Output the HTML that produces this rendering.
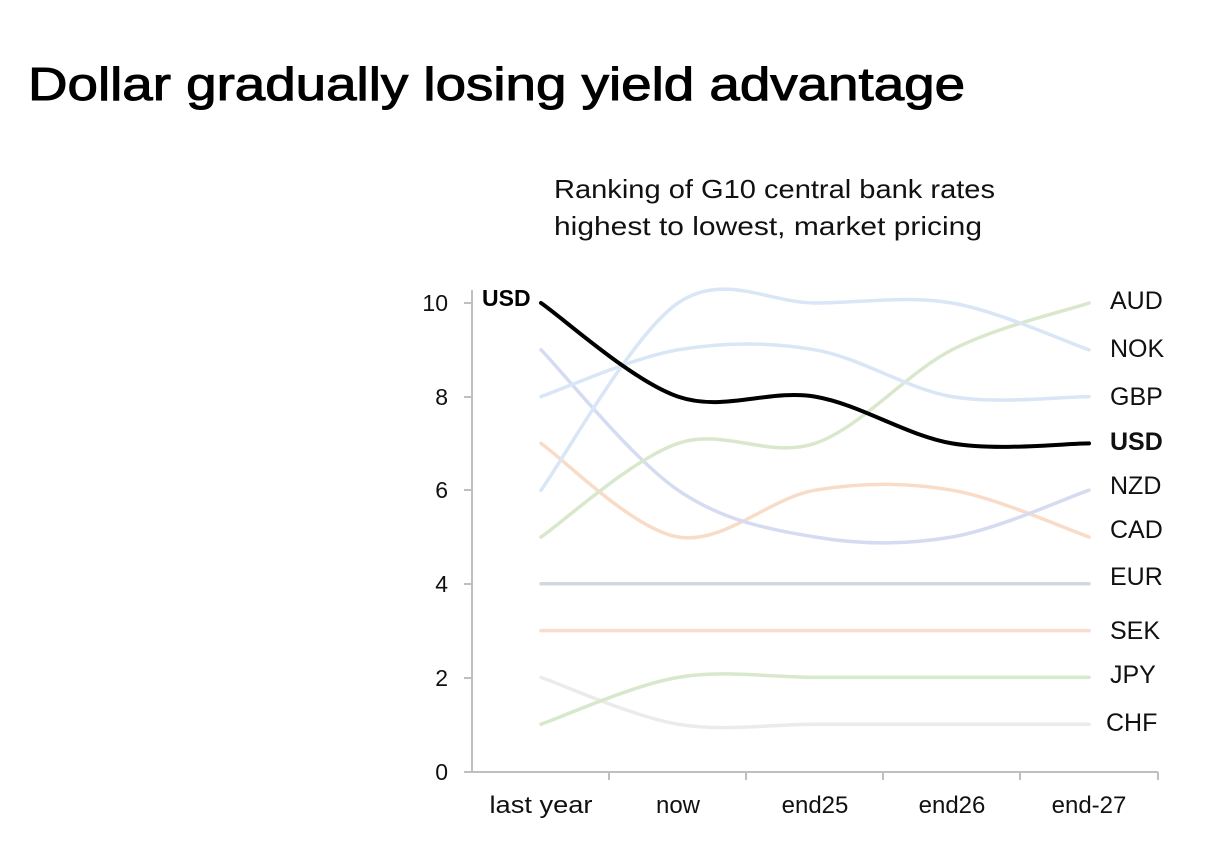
<!DOCTYPE html>
<html><head><meta charset="utf-8"><style>
body{margin:0;background:#fff;width:1211px;height:851px;overflow:hidden;font-family:"Liberation Sans",sans-serif}
</style></head><body>
<svg id="s" width="1211" height="851" xmlns="http://www.w3.org/2000/svg" font-family="Liberation Sans, sans-serif">
<text x="28" y="100" font-size="46" fill="#000" stroke="#000" stroke-width="1" textLength="937" lengthAdjust="spacingAndGlyphs">Dollar gradually losing yield advantage</text>
<text x="554" y="198" font-size="26" fill="#111" textLength="441" lengthAdjust="spacingAndGlyphs">Ranking of G10 central bank rates</text>
<text x="554" y="235" font-size="26" fill="#111" textLength="428" lengthAdjust="spacingAndGlyphs">highest to lowest, market pricing</text>
<g stroke="#bfbfbf" stroke-width="2">
<line x1="472" y1="290" x2="472" y2="772"/>
<line x1="472" y1="772" x2="1158" y2="772"/>
<line x1="464" y1="303" x2="472" y2="303"/><line x1="464" y1="397" x2="472" y2="397"/><line x1="464" y1="490" x2="472" y2="490"/><line x1="464" y1="584" x2="472" y2="584"/><line x1="464" y1="678" x2="472" y2="678"/><line x1="464" y1="772" x2="472" y2="772"/>
<line x1="609" y1="772" x2="609" y2="780"/><line x1="746" y1="772" x2="746" y2="780"/><line x1="883" y1="772" x2="883" y2="780"/><line x1="1020" y1="772" x2="1020" y2="780"/><line x1="1158" y1="772" x2="1158" y2="780"/>
</g>
<g font-size="23" fill="#111" text-anchor="end">
<text x="448" y="311">10</text><text x="448" y="405">8</text><text x="448" y="498">6</text><text x="448" y="592">4</text><text x="448" y="686">2</text><text x="448" y="780">0</text>
</g>
<g font-size="24" fill="#111" text-anchor="middle">
<text x="541" y="813" textLength="103" lengthAdjust="spacingAndGlyphs">last year</text><text x="678" y="813">now</text><text x="815" y="813">end25</text><text x="952" y="813">end26</text><text x="1089" y="813">end-27</text>
</g>
<g id="lines" fill="none" stroke-linecap="round"></g>
<text x="482" y="306" font-size="23" font-weight="bold">USD</text>
<g font-size="25" fill="#111">
<text x="1110" y="309">AUD</text><text x="1110" y="357">NOK</text><text x="1110" y="405">GBP</text>
<text x="1110" y="450" font-weight="bold">USD</text><text x="1110" y="494">NZD</text><text x="1110" y="538">CAD</text>
<text x="1110" y="585">EUR</text><text x="1110" y="639">SEK</text><text x="1110" y="683">JPY</text><text x="1106" y="731">CHF</text>
</g>
</svg>
<script>
var xs=[541,678,815,952,1089];function Y(v){return 771-46.8*v;}
var S=[["#ebebeb",[2,1,1,1,1],3.5],["#d8e8cc",[1,2,2,2,2],3.5],["#f8dccf",[3,3,3,3,3],3.5],["#d3d8e0",[4,4,4,4,4],3.5],
["#f8dcc8",[7,5,6,6,5],3.5],["#d5dcf2",[9,6,5,5,6],3.5],["#d9e8cc",[5,7,7,9,10],3.5],["#d9e6f5",[8,9,9,8,8],3.5],["#d9e6f5",[6,10,10,10,9],3.5],["#000",[10,8,8,7,7],4]];
var g=document.getElementById("lines"),h="";
S.forEach(function(s){var p=s[1].map(function(v,i){return [xs[i],Y(v)]});var d="M"+p[0].join(",");
for(var i=0;i<p.length-1;i++){var p0=p[i-1]||p[i],p1=p[i],p2=p[i+1],p3=p[i+2]||p2;
var c1=[p1[0]+(p2[0]-p0[0])/6,p1[1]+(p2[1]-p0[1])/6],c2=[p2[0]-(p3[0]-p1[0])/6,p2[1]-(p3[1]-p1[1])/6];
d+=" C"+c1.join(",")+" "+c2.join(",")+" "+p2.join(",");}
h+='<path d="'+d+'" stroke="'+s[0]+'" stroke-width="'+s[2]+'"/>';});
g.innerHTML=h;
</script>
</body></html>
